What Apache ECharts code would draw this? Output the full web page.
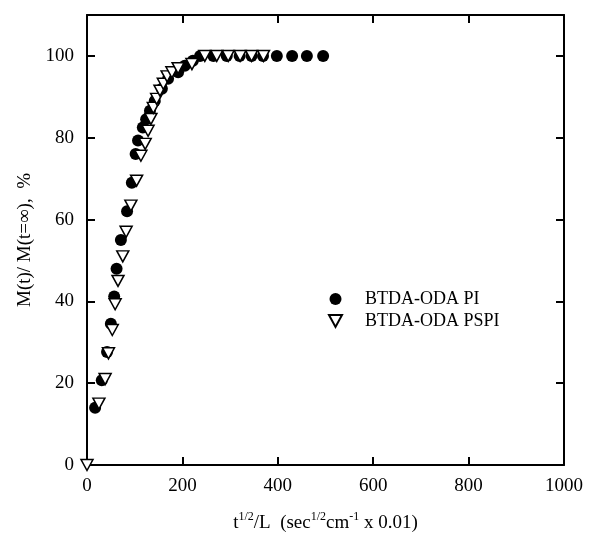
<!DOCTYPE html>
<html>
<head>
<meta charset="utf-8">
<script src="https://cdn.jsdelivr.net/npm/echarts@6/dist/echarts.min.js"></script>
<style>
  html, body { margin: 0; padding: 0; background: #fff; }
  #chart { width: 590px; height: 540px; }
</style>
</head>
<body>
<div id="chart"></div>
<script>
// Sorption curves: fractional uptake vs. t^1/2 / L
const seriesNames = ['BTDA-ODA PI', 'BTDA-ODA PSPI'];

const piX = [17, 31, 42, 50, 57, 62, 71, 84, 94, 102, 107, 117, 124, 132, 142, 157, 170, 191, 205, 222, 237, 265, 293, 320, 345, 369, 398, 430, 461, 495];
const piY = [14, 20.7, 27.6, 34.5, 41.2, 48, 55, 62, 69, 76, 79.3, 82.5, 84.5, 86.6, 89, 92, 94.4, 96, 97.6, 98.8, 100, 100, 100, 100, 100, 100, 100, 100, 100, 100];

const pspiX = [0, 25, 38, 45, 53, 59, 65, 75, 82, 92, 104, 113, 122, 128, 134, 139, 146, 153, 160, 168, 178, 191, 220, 247, 272, 296, 321, 345, 370];
const pspiY = [0, 15, 21, 27.3, 33, 39.3, 45, 51, 57, 63.4, 69.5, 75.6, 78.5, 81.7, 84.6, 87.3, 89.5, 91.5, 93.2, 95, 96, 97, 98, 100, 100, 100, 100, 100, 100];

const xTicks = [0, 200, 400, 600, 800, 1000];
const yTicks = [0, 20, 40, 60, 80, 100];

const FONT = '"Liberation Serif", "DejaVu Serif", serif';
const INK = '#000';

const pairs = (xs, ys) => xs.map((x, i) => [x, ys[i]]);

const axisBase = {
  axisLine: { show: true, onZero: false, lineStyle: { color: INK, width: 2 } },
  axisTick: { show: true, inside: true, length: 8, lineStyle: { color: INK, width: 2 } },
  splitLine: { show: false }
};

const chart = echarts.init(document.getElementById('chart'), null, { renderer: 'canvas' });

chart.setOption({
  backgroundColor: '#fff',
  animation: false,
  grid: { left: 87, right: 26, top: 15, bottom: 75 },
  legend: {
    orient: 'vertical',
    left: 323,
    top: 285,
    itemWidth: 13,
    itemHeight: 12,
    itemGap: 4,
    textStyle: { fontFamily: FONT, fontSize: 18, color: INK, padding: [0, 0, 0, 18] },
    data: [
      { name: seriesNames[0], icon: 'circle' },
      { name: seriesNames[1], icon: 'path://M0,0L12,0L6,11Z' }
    ]
  },
  xAxis: [
    Object.assign({}, axisBase, {
      type: 'value', min: xTicks[0], max: xTicks[xTicks.length - 1], interval: 200,
      position: 'bottom',
      axisLabel: {
        show: true, margin: 12, fontFamily: FONT, fontSize: 19, color: INK,
        formatter: v => String(v)
      },
      name: '{a|t}{s|1/2}{a|/L  (sec}{s|1/2}{a|cm}{s|-1}{a| x 0.01)}',
      nameLocation: 'middle',
      nameGap: 46,
      nameTextStyle: {
        rich: {
          a: { fontFamily: FONT, fontSize: 19, color: INK },
          s: { fontFamily: FONT, fontSize: 12, color: INK, padding: [0, 0, 12, 0] }
        }
      }
    }),
    Object.assign({}, axisBase, {
      type: 'value', min: xTicks[0], max: xTicks[xTicks.length - 1], interval: 200,
      position: 'top',
      axisLabel: { show: false }
    })
  ],
  yAxis: [
    Object.assign({}, axisBase, {
      type: 'value', min: 0, max: 110, interval: 20,
      position: 'left',
      axisLabel: {
        show: true, margin: 13, fontFamily: FONT, fontSize: 19, color: INK,
        formatter: v => (yTicks.indexOf(v) >= 0 ? String(v) : '')
      },
      name: 'M(t)/ M(t=\u221e),  %',
      nameLocation: 'middle',
      nameGap: 34,
      nameTextStyle: { fontFamily: FONT, fontSize: 19, color: INK }
    }),
    Object.assign({}, axisBase, {
      type: 'value', min: 0, max: 110, interval: 20,
      position: 'right',
      axisLabel: { show: false }
    })
  ],
  series: [
    {
      name: seriesNames[0],
      type: 'scatter',
      symbol: 'circle',
      symbolSize: 12,
      itemStyle: { color: '#000', borderColor: '#000', borderWidth: 0, opacity: 1 },
      z: 2,
      data: pairs(piX, piY)
    },
    {
      name: seriesNames[1],
      type: 'scatter',
      symbol: 'triangle',
      symbolRotate: 180,
      symbolSize: [12, 11],
      itemStyle: { color: '#fff', borderColor: '#000', borderWidth: 1.5, opacity: 1 },
      z: 3,
      data: pairs(pspiX, pspiY)
    }
  ]
});
</script>
</body>
</html>
